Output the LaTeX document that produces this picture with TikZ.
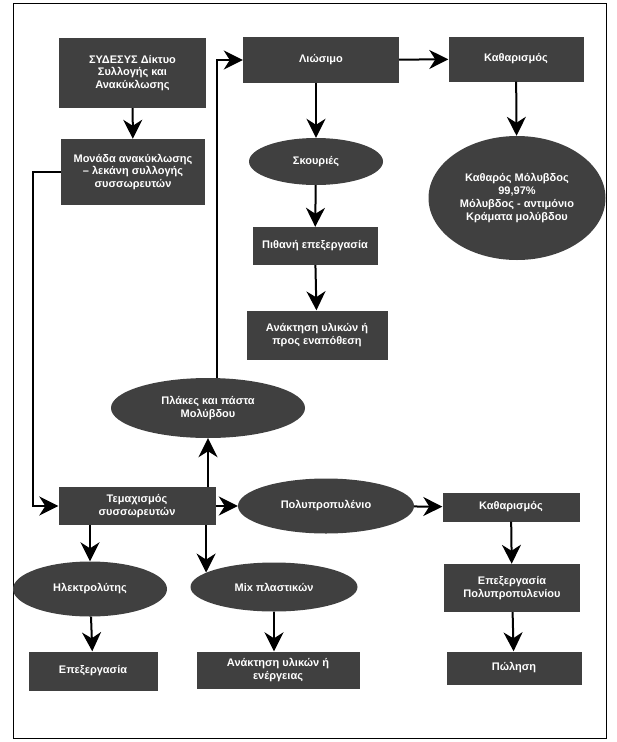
\documentclass[tikz,border=0pt]{standalone}
\usepackage{fontspec}
\setmainfont{Liberation Sans}
\usetikzlibrary{shapes.geometric, arrows.meta}
\definecolor{boxgray}{HTML}{404040}

\begin{document}
\begin{tikzpicture}[x=1pt, y=-1pt,
        box/.style={rectangle, fill=boxgray, text=white, align=center, inner sep=0pt,
            font=\fontsize{11}{12.7}\selectfont\bfseries},
        ell/.style={ellipse, fill=boxgray, text=white, align=center, inner sep=0pt,
            font=\fontsize{11}{12.7}\selectfont\bfseries},
        arr/.style={line width=2pt, -{Stealth[length=19pt, width=19pt, inset=6pt]}}]
        \useasboundingbox (0,0) rectangle (617,742);
        \draw[line width=1pt] (13,3) rectangle (606,738);

        % upper part: collection and smelting
        \node[box, minimum width=147pt, minimum height=70pt] (sydesys) at (132.5,73) {ΣΥΔΕΣΥΣ Δίκτυο\\Συλλογής και\\Ανακύκλωσης};
        \node[box, minimum width=144pt, minimum height=66pt] (monada) at (133,172) {Μονάδα ανακύκλωσης\\– λεκάνη συλλογής\\συσσωρευτών};
        \node[box, minimum width=156pt, minimum height=46pt] (liosimo) at (321,60) {Λιώσιμο};
        \node[box, minimum width=135pt, minimum height=45pt] (kathar) at (516,59) {Καθαρισμός};
        \node[ell, minimum width=134pt, minimum height=47pt] (skouries) at (316,161.5) {Σκουριές};
        \node[ell, minimum width=177pt, minimum height=124pt] (molyvdos) at (517,198) {Καθαρός Μόλυβδος\\99,97\%\\Μόλυβδος -  αντιμόνιο\\Κράματα μολύβδου};
        \node[box, minimum width=125pt, minimum height=38pt] (pithani) at (315,246) {Πιθανή επεξεργασία};
        \node[box, minimum width=141pt, minimum height=49pt] (anaktisi) at (317,335) {Ανάκτηση υλικών ή\\προς εναπόθεση};
        \node[ell, minimum width=194pt, minimum height=60pt] (plakes) at (208,408) {Πλάκες και πάστα\\Μολύβδου};

        % lower part: breaking and separation
        \node[box, minimum width=157pt, minimum height=38pt] (temax) at (137,506) {Τεμαχισμός\\συσσωρευτών};
        \node[ell, minimum width=176pt, minimum height=55pt] (polyprop) at (326,506) {Πολυπροπυλένιο};
        \node[box, minimum width=137pt, minimum height=29pt] (katharpp) at (511,507) {Καθαρισμός};
        \node[box, minimum width=136pt, minimum height=48pt] (epexpp) at (512,588) {Επεξεργασία\\Πολυπροπυλενίου};
        \node[box, minimum width=135pt, minimum height=33pt] (polisi) at (514,668) {Πώληση};
        \node[ell, minimum width=154pt, minimum height=55pt] (ilektr) at (90,589) {Ηλεκτρολύτης};
        \node[box, minimum width=129pt, minimum height=39pt] (epex) at (93,671) {Επεξεργασία};
        \node[ell, minimum width=167pt, minimum height=49pt] (mix) at (274,587) {Μix πλαστικών};
        \node[box, minimum width=163pt, minimum height=37pt] (anaktenerg) at (278,670) {Ανάκτηση υλικών ή\\ενέργειας};

        \draw[arr] (sydesys) -- (monada);
        \draw[arr] (monada.west) -- ++(-28,0) |- (temax.west);
        \draw[arr] (temax.north -| plakes.south) -- (plakes.south);
        \draw[arr] (plakes.73) |- (liosimo.west);
        \draw[arr] (liosimo) -- (kathar);
        \draw[arr] (liosimo.south -| skouries.north) -- (skouries.north);
        \draw[arr] (kathar) -- (molyvdos);
        \draw[arr] (skouries) -- (pithani);
        \draw[arr] (pithani) -- (anaktisi);
        \draw[arr] (temax) -- (polyprop);
        \draw[arr] (temax.south -| ilektr.north) -- (ilektr.north);
        \draw[arr] (temax.south -| mix.168) -- (mix.168);
        \draw[arr] (ilektr) -- (epex);
        \draw[arr] (mix.south) -- (mix.south |- anaktenerg.north);
        \draw[arr] (polyprop) -- (katharpp);
        \draw[arr] (katharpp) -- (epexpp);
        \draw[arr] (epexpp) -- (polisi);
    \end{tikzpicture}
\end{document}
